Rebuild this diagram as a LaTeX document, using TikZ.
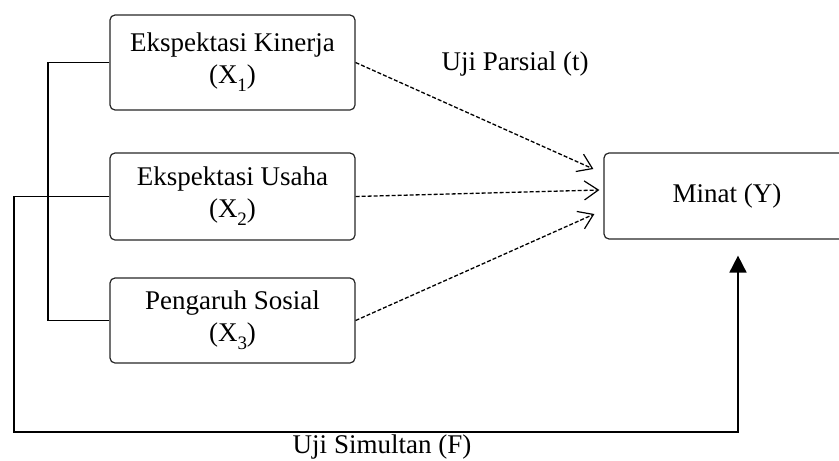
\documentclass[tikz,border=0pt]{standalone}
\usepackage{fontspec}
\setmainfont{Liberation Serif}
\usetikzlibrary{arrows.meta}
\newcommand{\lowsub}[1]{\raisebox{-8pt}{\fontsize{19}{19}\selectfont #1}}
\begin{document}
\begin{tikzpicture}[x=1pt,y=-1pt,
  font=\fontsize{27}{32}\selectfont,
  box/.style={draw=black!85,line width=1.2pt,rounded corners=5pt,
    minimum width=245pt,align=center,inner sep=2pt},
  link/.style={line width=1.8pt},
  parsial/.style={line width=1.3pt,dash pattern=on 4pt off 2pt,
    -{Straight Barb[length=14pt,width=19pt,line width=1.2pt]}},
  simultan/.style={link,-{Triangle[length=17pt,width=17pt]},shorten >=16pt}]
  \useasboundingbox (0,0) rectangle (839,461);
  \node[box,minimum height=95pt] (x1) at (232.5,62.5) {Ekspektasi Kinerja\\(X\lowsub{1})};
  \node[box,minimum height=87pt] (x2) at (232.5,196.5) {Ekspektasi Usaha\\(X\lowsub{2})};
  \node[box,minimum height=85pt] (x3) at (232.5,320.5) {Pengaruh Sosial\\(X\lowsub{3})};
  \node[box,minimum height=86pt,minimum width=246pt] (y) at (727,196) {Minat (Y)};
  \node (uparsial) at (515,64) {Uji Parsial (t)};
  \node (usimultan) at (382,447) {Uji Simultan (F)};
  % bracket X1 - X3
  \coordinate (brk) at (48,0);
  \draw[link] (x1.west) -- (x1.west -| brk) |- (x3.west);
  % simultaneous test
  \coordinate (simL) at (14,432);
  \coordinate (simR) at (738,432);
  \draw[simultan] (x2.west) -| (simL) -- (simR) -- (simR |- y.south);
  % partial tests
  \draw[parsial] (x1.east) -- ([xshift=-10pt,yshift=27pt]y.west);
  \draw[parsial] (x2.east) -- ([xshift=-4pt,yshift=6pt]y.west);
  \draw[parsial] (x3.east) -- ([xshift=-9pt,yshift=-18pt]y.west);
\end{tikzpicture}
\end{document}
